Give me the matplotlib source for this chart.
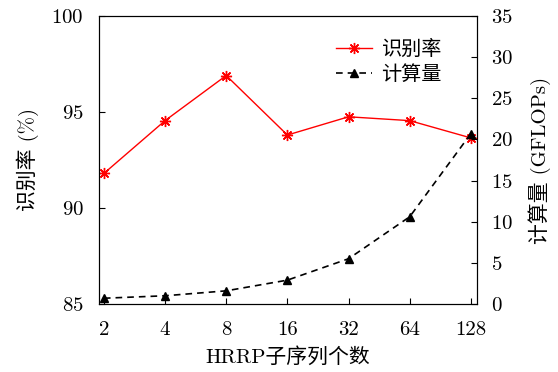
import matplotlib
matplotlib.use("Agg")
import matplotlib.pyplot as plt
import numpy as np

plt.rcParams['font.family'] = ['cmr10', 'Noto Sans CJK SC', 'DejaVu Sans']
plt.rcParams['axes.formatter.use_mathtext'] = True

subseq = ['2', '4', '8', '16', '32', '64', '128']
acc = [91.8, 94.55, 96.9, 93.8, 94.75, 94.55, 93.65]
gflops = [0.7, 1.0, 1.6, 2.9, 5.5, 10.6, 20.7]

fig = plt.figure(figsize=(5.58, 3.72), dpi=100)
ax = fig.add_axes([0.1774, 0.1828, 0.6774, 0.7742])
ax2 = ax.twinx()

x = np.arange(len(subseq))
l1, = ax.plot(x, acc, color='red', lw=1.0, marker=(8, 2, 0), ms=8, mew=1.0, label='识别率')
l2, = ax2.plot(x, gflops, color='black', lw=1.2, ls=(0, (4, 3)), marker='^', ms=6, label='计算量')

ax.set_xlim(-0.08, 6.1)
ax.set_ylim(85, 100)
ax2.set_ylim(0, 35)
ax.set_xticks(x)
ax.set_xticklabels(subseq)
ax.set_yticks([85, 90, 95, 100])
ax2.set_yticks(range(0, 36, 5))

for a in (ax, ax2):
    a.tick_params(direction='in', labelsize=15, length=4)
ax.tick_params(axis='x', pad=12)
ax.tick_params(axis='y', pad=11)
ax2.tick_params(axis='y', pad=10)

ax.set_xlabel('HRRP子序列个数', fontsize=15, labelpad=6)
ax.set_ylabel('识别率 (%)', fontsize=15, labelpad=9)
ax2.set_ylabel('计算量 (GFLOPs)', fontsize=15, labelpad=11)

ax.legend([l1, l2], ['识别率', '计算量'], loc='upper right', frameon=False,
          fontsize=14.5, bbox_to_anchor=(0.955, 0.98), handlelength=1.8,
          labelspacing=0.3, handletextpad=0.45)

fig.savefig('out.png', dpi=100)
